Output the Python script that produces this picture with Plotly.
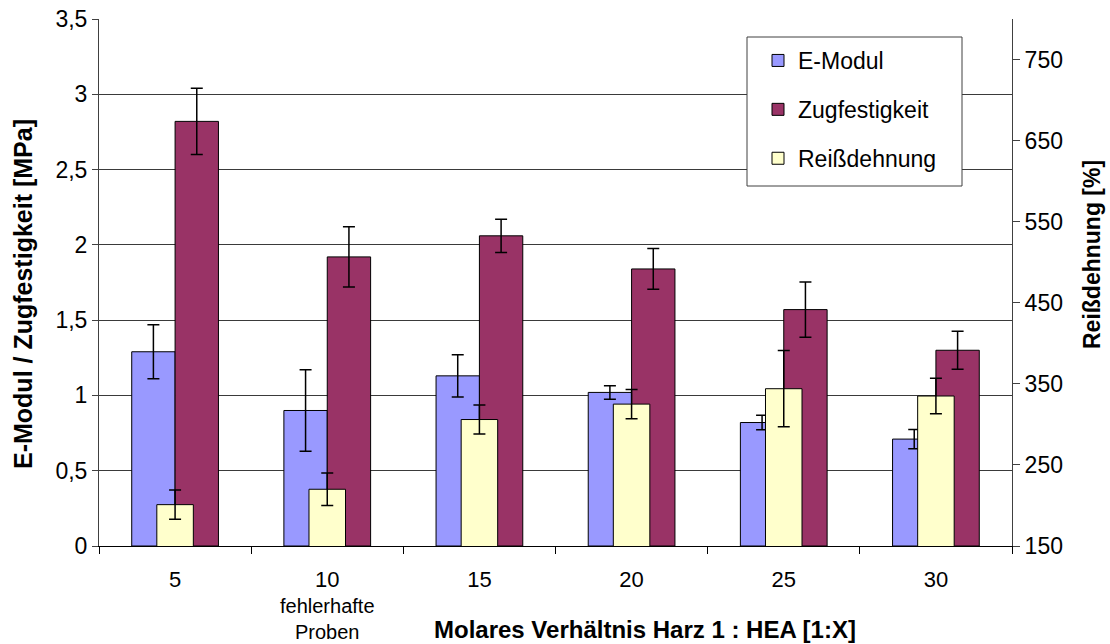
import plotly.graph_objects as go

# Molares Verhältnis Harz 1 : HEA, one group of bars per ratio
categories = ["5", "10", "15", "20", "25", "30"]
category_notes = ["", "fehlerhafte<br>Proben", "", "", "", ""]

# E-Modul [MPa] and its standard deviation
e_modul = [1.29, 0.90, 1.13, 1.02, 0.82, 0.71]
e_modul_err = [0.18, 0.27, 0.14, 0.045, 0.048, 0.064]

# Zugfestigkeit [MPa] and its standard deviation
zugfestigkeit = [2.82, 1.92, 2.06, 1.84, 1.57, 1.30]
zugfestigkeit_err = [0.22, 0.20, 0.11, 0.135, 0.183, 0.126]

# Reißdehnung [%] (secondary axis) and its standard deviation
reissdehnung = [201, 220, 306, 325, 344, 335]
reissdehnung_err = [18, 20, 18, 18, 47, 22]

left_ticks = [0, 0.5, 1, 1.5, 2, 2.5, 3, 3.5]
left_ticktext = ["0", "0,5", "1", "1,5", "2", "2,5", "3", "3,5"]
right_ticks = [150, 250, 350, 450, 550, 650, 750]

FONT = "Liberation Sans, Arial, sans-serif"
TICK = 23

pos = list(range(len(categories)))
boundaries = [p - 0.5 for p in pos] + [pos[-1] + 0.5]

# category number in the tick font size, optional note underneath in a smaller size
x_ticktext = []
for cat, note in zip(categories, category_notes):
    label = f'<span style="font-size:22px">{cat}</span>'
    if note:
        label += "<br>" + note
    x_ticktext.append(label)

fig = go.Figure()

fig.add_trace(go.Bar(
    x=pos, y=e_modul, name="E-Modul", legendgroup="a",
    offset=-0.285, width=0.285,
    marker=dict(color="#9999FF", line=dict(color="black", width=1)),
    error_y=dict(type="data", array=e_modul_err, color="black", thickness=1.5, width=6),
))
fig.add_trace(go.Bar(
    x=pos, y=zugfestigkeit, name="Zugfestigkeit", legendgroup="b",
    offset=0.0, width=0.285,
    marker=dict(color="#993366", line=dict(color="black", width=1)),
    error_y=dict(type="data", array=zugfestigkeit_err, color="black", thickness=1.5, width=6),
))
fig.add_trace(go.Bar(
    x=pos, y=reissdehnung, name="Reißdehnung", legendgroup="c",
    offset=-0.12, width=0.24, yaxis="y2",
    marker=dict(color="#FFFFCC", line=dict(color="black", width=1)),
    error_y=dict(type="data", array=reissdehnung_err, color="black", thickness=1.5, width=6),
))

L, R, T, B = 99, 98, 19, 98
W, H = 1110, 644
pw, ph = W - L - R, H - T - B


def px_x(x):
    return (x - L) / pw


def px_y(y):
    return (H - B - y) / ph


fig.update_layout(
    width=W, height=H,
    margin=dict(l=L, r=R, t=T, b=B, autoexpand=False),
    paper_bgcolor="white", plot_bgcolor="white",
    font=dict(family=FONT, size=TICK, color="black"),
    barmode="overlay",
    showlegend=True,
    legend=dict(
        x=px_x(758), y=px_y(39), xanchor="left", yanchor="top",
        bgcolor="rgba(0,0,0,0)", borderwidth=0,
        font=dict(family=FONT, size=23, color="black"),
        traceorder="grouped", tracegroupgap=16,
    ),
    xaxis=dict(
        range=[-0.5, len(categories) - 0.5], automargin=False,
        tickvals=pos, ticktext=x_ticktext, ticks="",
        ticklabelstandoff=16,
        showgrid=False, zeroline=False,
        showline=True, linecolor="black", linewidth=1,
        minor=dict(tickvals=boundaries, ticks="outside", ticklen=7,
                   tickcolor="black", showgrid=False),
        tickfont=dict(family=FONT, size=20),
    ),
    yaxis=dict(
        range=[0, 3.5], tickvals=left_ticks, ticktext=left_ticktext, automargin=False,
        ticks="outside", ticklen=6, tickcolor="#404040",
        showgrid=True, gridcolor="#3a3a3a", gridwidth=1,
        zeroline=False, showline=True, linecolor="#404040", linewidth=1,
        tickfont=dict(family=FONT, size=TICK),
    ),
    yaxis2=dict(
        range=[150, 800], tickvals=right_ticks, overlaying="y", side="right",
        automargin=False,
        ticks="outside", ticklen=7, tickcolor="#404040",
        showgrid=False, zeroline=False,
        showline=True, linecolor="#404040", linewidth=1,
        tickfont=dict(family=FONT, size=TICK),
    ),
    shapes=[
        dict(type="rect", xref="paper", yref="paper",
             x0=px_x(747), x1=px_x(962), y0=px_y(186), y1=px_y(37),
             line=dict(color="#404040", width=1), fillcolor="white", layer="above"),
    ],
    annotations=[
        dict(text="<b>Molares Verhältnis Harz 1 : HEA [1:X]</b>", xref="paper", yref="paper",
             x=px_x(645), y=px_y(629), xanchor="center", yanchor="middle",
             showarrow=False, font=dict(family=FONT, size=24)),
        dict(text="<b>E-Modul / Zugfestigkeit [MPa]</b>", xref="paper", yref="paper",
             x=px_x(23), y=px_y(294), xanchor="center", yanchor="middle", textangle=-90,
             showarrow=False, font=dict(family=FONT, size=25)),
        dict(text="<b>Reißdehnung [%]</b>", xref="paper", yref="paper",
             x=px_x(1092), y=px_y(255), xanchor="center", yanchor="middle", textangle=-90,
             showarrow=False, font=dict(family=FONT, size=23)),
    ],
)

fig.write_html("out.html")
